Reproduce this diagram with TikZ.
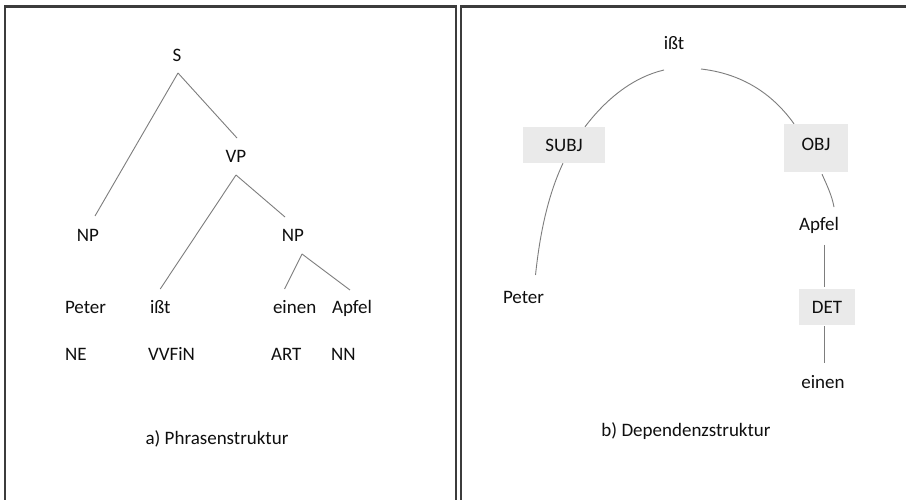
\documentclass[tikz,border=0pt]{standalone}
\usepackage{fontspec}
\setmainfont{Carlito}
\usetikzlibrary{calc}
\definecolor{txt}{RGB}{15,15,15}
\definecolor{edgegray}{RGB}{125,125,125}
\definecolor{boxgray}{RGB}{234,234,234}
\definecolor{framegray}{RGB}{60,60,60}
\tikzset{
  lbl/.style={inner sep=0pt, outer sep=0pt, text=txt, font=\fontsize{19}{22}\selectfont},
  edge/.style={draw=edgegray, line width=0.9pt},
  frame/.style={draw=framegray, line width=2.1pt},
  relbox/.style={fill=boxgray, inner sep=0pt, text=txt, font=\fontsize{19}{22}\selectfont, text height=12.2pt, text depth=0pt, align=center}
}
\begin{document}
\begin{tikzpicture}[x=1pt, y=-1pt]
\useasboundingbox (0,0) rectangle (906,500);
\fill[white] (0,0) rectangle (906,500);
% panel frames
\draw[frame] (5,500) -- (5,6.5) -- (456,6.5) -- (456,500);
\draw[frame] (461,500) -- (461,6.5) -- (906,6.5);

% ---------- a) Phrasenstruktur ----------
\node[lbl, anchor=base] (S) at (177,62) {S};
\node[lbl, anchor=base] (VP) at (236,163) {VP};
\node[lbl, anchor=base] (NPa) at (88,241) {NP};
\node[lbl, anchor=base] (NPb) at (293,241) {NP};
\node[lbl, anchor=base west] (peter) at (65,313) {Peter};
\node[lbl, anchor=base west] (isst) at (150,313) {ißt};
\node[lbl, anchor=base west] (einen) at (273,313) {einen};
\node[lbl, anchor=base west] (apfel) at (332,313) {Apfel};
\node[lbl, anchor=base west] (ne) at (65,360) {NE};
\node[lbl, anchor=base west] (vvfin) at (148,360) {VVFiN};
\node[lbl, anchor=base west] (art) at (271,360) {ART};
\node[lbl, anchor=base west] (nn) at (331,360) {NN};
\node[lbl, anchor=base] (capa) at (217,444) {a) Phrasenstruktur};

\draw[edge] ($(S.base)+(1,11)$) -- ($(NPa.base)+(7,-25)$);
\draw[edge] ($(S.base)+(1,11)$) -- ($(VP.base)+(1,-25)$);
\draw[edge] ($(VP.base)+(0,12)$) -- ($(isst.base)+(0,-24)$);
\draw[edge] ($(VP.base)+(0,12)$) -- ($(NPb.base)+(-8,-24)$);
\draw[edge] ($(NPb.base)+(9,13)$) -- ($(einen.base)+(-10,-24)$);
\draw[edge] ($(NPb.base)+(9,13)$) -- ($(apfel.base)+(-2,-23)$);

% ---------- b) Dependenzstruktur ----------
\node[lbl, anchor=base] (isst2) at (674,50) {ißt};
\node[relbox, minimum width=82pt, minimum height=36pt] (subj) at (564,145) {SUBJ};
\node[relbox, minimum width=64pt, minimum height=48pt, text depth=8pt] (obj) at (816,148) {OBJ};
\node[lbl, anchor=base] (apfel2) at (819,230) {Apfel};
\node[relbox, minimum width=56pt, minimum height=36pt] (det) at (827,307) {DET};
\node[lbl, anchor=base] (einen2) at (823,388) {einen};
\node[lbl, anchor=base west] (peter2) at (503,303) {Peter};
\node[lbl, anchor=base] (capb) at (686,436) {b) Dependenzstruktur};

\draw[edge] ($(isst2.base)+(-10,20)$) .. controls +(-30,7) and +(22,-29) .. ($(subj.north)+(21,0)$);
\draw[edge] ($(subj.south)+(-1,0)$) .. controls +(-16,34) and +(4,-38) .. ($(peter2.base)+(12,-28)$);
\draw[edge] ($(isst2.base)+(27,19)$) .. controls +(35,4) and +(-25,-35) .. ($(obj.north)+(-22,0)$);
\draw[edge] ($(obj.south)+(6,2)$) .. controls +(5,11) and +(-2,-11) .. ($(apfel2.base)+(15,-23)$);
\draw[edge] ($(apfel2.base)+(5,15)$) -- ($(det.north)+(-3,-2)$);
\draw[edge] ($(det.south)+(-3,1)$) -- ($(einen2.base)+(1,-25)$);
\end{tikzpicture}
\end{document}
